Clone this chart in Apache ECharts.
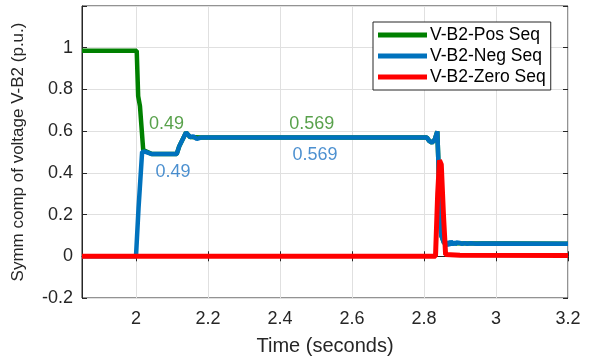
<!DOCTYPE html>
<html>
<head>
<meta charset="utf-8">
<script src="https://cdn.jsdelivr.net/npm/echarts@6/dist/echarts.min.js"></script>
<style>html,body{margin:0;padding:0;background:#fff}#c{width:592px;height:356px}</style>
</head>
<body>
<div id="c"></div>
<script>
// ---- data ----
const seriesNames = ['V-B2-Pos Seq', 'V-B2-Neg Seq', 'V-B2-Zero Seq'];

const posT = [1.85, 2.002, 2.006, 2.011, 2.020, 2.025, 2.044, 2.113, 2.120, 2.139, 2.150, 2.180, 2.808, 2.815, 2.822, 2.830, 2.837, 2.842, 2.848, 2.856, 3.2];
const posV = [0.985, 0.985, 0.768, 0.720, 0.510, 0.502, 0.490, 0.490, 0.527, 0.594, 0.572, 0.569, 0.569, 0.552, 0.545, 0.560, 0.599, 0.350, 0.100, 0.062, 0.060];

const negT = [1.85, 2.000, 2.007, 2.017, 2.025, 2.044, 2.113, 2.120, 2.139, 2.150, 2.159, 2.169, 2.180, 2.808, 2.815, 2.822, 2.830, 2.837, 2.842, 2.848, 2.856, 2.862, 2.866, 2.870, 2.874, 2.878, 2.882, 2.886, 2.890, 2.895, 2.900, 2.906, 2.912, 2.920, 2.930, 2.945, 2.960, 3.2];
const negV = [0, 0, 0.230, 0.500, 0.502, 0.490, 0.490, 0.527, 0.594, 0.572, 0.575, 0.563, 0.569, 0.569, 0.552, 0.545, 0.560, 0.599, 0.350, 0.100, 0.062, 0.068, 0.075, 0.052, 0.074, 0.054, 0.070, 0.056, 0.066, 0.058, 0.064, 0.059, 0.063, 0.060, 0.062, 0.060, 0.061, 0.060];

const zeroT = [1.85, 2.832, 2.838, 2.843, 2.848, 2.854, 2.860, 2.900, 3.2];
const zeroV = [0, 0, 0.30, 0.46, 0.44, 0.20, 0.008, 0.005, 0.004];

const greenNoteT = [2.085, 2.488];
const greenNoteV = [0.636, 0.636];
const greenNoteText = ['0.49', '0.569'];
const blueNoteT = [2.103, 2.497];
const blueNoteV = [0.402, 0.484];
const blueNoteText = ['0.49', '0.569'];

const xTicks = [2, 2.2, 2.4, 2.6, 2.8, 3, 3.2];
const yTicks = [-0.2, 0, 0.2, 0.4, 0.6, 0.8, 1];

const xLabel = 'Time (seconds)';
const yLabel = 'Symm comp of voltage V-B2 (p.u.)';

// ---- build ----
const FONT = 'Arial, "Liberation Sans", sans-serif';
const pair = (t, v) => t.map((x, i) => [x, v[i]]);
const colors = ['#008000', '#0072BD', '#FF0000'];

const chart = echarts.init(document.getElementById('c'), null, {renderer: 'canvas'});

const fmtX = v => {
  const r = Math.round(v * 10) / 10;
  return xTicks.some(t => Math.abs(t - v) < 1e-6) ? String(r) : '';
};
const fmtY = v => {
  const r = Math.round(v * 10) / 10;
  return yTicks.some(t => Math.abs(t - v) < 1e-6) ? String(r) : '';
};

const noteSeries = (t, v, txt, color) => ({
  type: 'scatter',
  symbolSize: 0,
  silent: true,
  z: 5,
  data: pair(t, v).map((p, i) => ({value: p, label: {formatter: txt[i]}})),
  label: {show: true, position: 'inside', color: color, fontSize: 18, fontFamily: FONT}
});

chart.setOption({
  animation: false,
  backgroundColor: '#fff',
  grid: {left: 82, right: 24, top: 6, bottom: 58, containLabel: false, outerBoundsMode: 'none', show: true, borderColor: '#262626', borderWidth: 1, backgroundColor: 'transparent'},
  legend: {
    data: seriesNames,
    orient: 'vertical',
    left: 373, top: 22,
    padding: [3, 5, 3, 5],
    itemGap: 1,
    itemWidth: 49, itemHeight: 5,
    icon: 'rect',
    borderColor: '#262626', borderWidth: 1,
    backgroundColor: '#fff',
    textStyle: {fontSize: 17.5, fontFamily: FONT, color: '#000', lineHeight: 20, padding: [0, 0, 0, -2]}
  },
  xAxis: [{
    type: 'value', min: 1.85, max: 3.2, splitNumber: 7,
    name: xLabel, nameLocation: 'middle', nameGap: 38,
    nameTextStyle: {fontSize: 20, fontFamily: FONT, color: '#262626'},
    axisLine: {show: true, lineStyle: {color: '#262626'}},
    axisTick: {show: true, inside: true, length: 5, lineStyle: {color: '#262626'}},
    axisLabel: {formatter: fmtX, showMinLabel: false, fontSize: 18, fontFamily: FONT, color: '#262626', margin: 12},
    splitLine: {show: true, lineStyle: {color: '#e0e0e0', width: 1}}
  }, {
    type: 'value', position: 'top', min: 1.85, max: 3.2, splitNumber: 7,
    axisLine: {show: false},
    axisTick: {show: true, inside: true, length: 5, lineStyle: {color: '#262626'}},
    axisLabel: {show: false}, splitLine: {show: false}
  }],
  yAxis: [{
    type: 'value', min: -0.2, max: 1.2, interval: 0.2,
    name: yLabel, nameLocation: 'middle', nameGap: 55,
    nameTextStyle: {fontSize: 17, fontFamily: FONT, color: '#262626'},
    axisLine: {show: true, lineStyle: {color: '#262626'}},
    axisTick: {show: true, inside: true, length: 5, lineStyle: {color: '#262626'}},
    axisLabel: {formatter: fmtY, fontSize: 18, fontFamily: FONT, color: '#262626', margin: 9},
    splitLine: {show: true, lineStyle: {color: '#e0e0e0', width: 1}}
  }, {
    type: 'value', position: 'right', min: -0.2, max: 1.2, interval: 0.2,
    axisLine: {show: false},
    axisTick: {show: true, inside: true, length: 5, lineStyle: {color: '#262626'}},
    axisLabel: {show: false}, splitLine: {show: false}
  }],
  series: [
    {name: seriesNames[0], type: 'line', data: pair(posT, posV), showSymbol: false, symbol: 'none', lineStyle: {width: 4.5, color: colors[0]}, itemStyle: {color: colors[0]}, z: 2},
    {name: seriesNames[1], type: 'line', data: pair(negT, negV), showSymbol: false, symbol: 'none', lineStyle: {width: 4.5, color: colors[1]}, itemStyle: {color: colors[1]}, z: 3},
    {name: seriesNames[2], type: 'line', data: pair(zeroT, zeroV), showSymbol: false, symbol: 'none', lineStyle: {width: 5, color: colors[2]}, itemStyle: {color: colors[2]}, z: 4},
    noteSeries(greenNoteT, greenNoteV, greenNoteText, '#2e8a1e'),
    noteSeries(blueNoteT, blueNoteV, blueNoteText, '#1f74c4')
  ]
});
</script>
</body>
</html>
